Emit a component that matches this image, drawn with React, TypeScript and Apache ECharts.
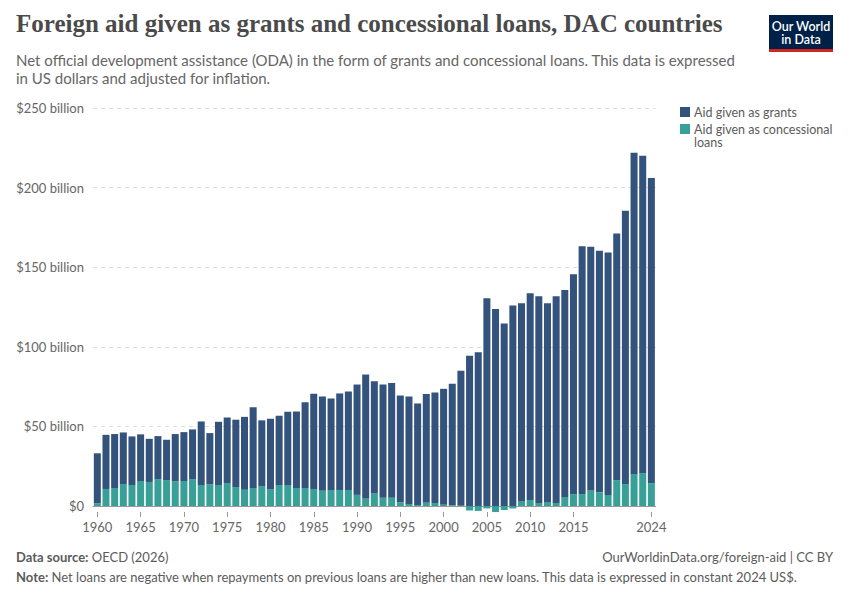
import React, { useEffect, useRef } from "react";
import * as echarts from "echarts";

const years = [
  "1960", "1961", "1962", "1963", "1964", "1965", "1966", "1967", "1968", "1969",
  "1970", "1971", "1972", "1973", "1974", "1975", "1976", "1977", "1978", "1979",
  "1980", "1981", "1982", "1983", "1984", "1985", "1986", "1987", "1988", "1989",
  "1990", "1991", "1992", "1993", "1994", "1995", "1996", "1997", "1998", "1999",
  "2000", "2001", "2002", "2003", "2004", "2005", "2006", "2007", "2008", "2009",
  "2010", "2011", "2012", "2013", "2014", "2015", "2016", "2017", "2018", "2019",
  "2020", "2021", "2022", "2023", "2024",
];

// Aid given as grants (billion constant 2024 US$)
const grants = [
  31.4, 34.0, 33.9, 32.4, 30.5, 29.3, 27.1, 27.0, 25.3, 29.7,
  30.7, 31.2, 39.9, 32.2, 39.7, 41.2, 42.3, 45.8, 50.8, 41.3,
  44.4, 43.5, 46.0, 48.1, 53.9, 59.8, 59.2, 57.5, 60.7, 61.9,
  69.3, 78.0, 70.5, 71.1, 72.0, 67.1, 67.5, 63.8, 68.4, 69.4,
  72.8, 76.3, 84.8, 94.3, 96.5, 130.5, 123.8, 114.6, 125.9, 124.5,
  129.8, 129.8, 124.9, 129.8, 130.3, 138.0, 155.6, 153.1, 151.8, 152.4,
  154.8, 171.7, 201.8, 199.3, 191.6,
];

// Aid given as concessional loans (net, billion constant 2024 US$)
const loans = [
  1.7, 10.7, 11.3, 13.8, 13.2, 15.7, 15.1, 16.9, 16.3, 15.5,
  15.7, 16.9, 13.2, 13.6, 13.2, 14.4, 11.9, 10.2, 11.3, 12.5,
  10.4, 13.2, 13.2, 11.3, 11.3, 10.7, 9.6, 10.0, 10.0, 10.0,
  7.0, 4.6, 7.9, 5.2, 5.2, 2.3, 1.3, 0.6, 2.0, 1.9,
  0.8, 0.5, 0.1, -2.9, -3.1, -1.5, -3.8, -2.5, -1.5, 2.9,
  3.8, 1.9, 2.5, 1.9, 5.4, 7.5, 7.5, 9.8, 8.6, 6.9,
  16.3, 13.8, 20.1, 20.7, 14.4,
];

const yTicks = [0, 50, 100, 150, 200, 250];

const GRANTS_COLOR = "#33537d";
const LOANS_COLOR = "#39a098";
const SANS = "Lato, 'Noto Sans', sans-serif";
const SERIF = "'Liberation Serif', 'DejaVu Serif', serif";

const showYear = (_i: number, v: string) => {
  const y = Number(v);
  return (y % 5 === 0 && y <= 2015) || y === 2024;
};

export default function App() {
  const ref = useRef<HTMLDivElement>(null);

  useEffect(() => {
    document.body.style.margin = "0";
    if (!ref.current) return;
    const chart = echarts.init(ref.current, null, { renderer: "svg" });

    const option: any = {
      animation: false,
      backgroundColor: "#ffffff",
      grid: { left: 93, right: 194.3, top: 108, bottom: 94, containLabel: false },
      xAxis: [
        {
          type: "category",
          data: years,
          boundaryGap: true,
          axisLine: { show: true, lineStyle: { color: "#999", width: 1 } },
          axisTick: { show: false },
          axisLabel: { show: false },
          splitLine: { show: false },
        },
        {
          type: "category",
          data: years,
          position: "bottom",
          offset: 6,
          boundaryGap: true,
          axisLine: { show: false },
          axisTick: {
            show: true,
            alignWithLabel: true,
            interval: showYear,
            length: 5,
            lineStyle: { color: "#999" },
          },
          axisLabel: {
            show: true,
            interval: showYear,
            margin: 8,
            color: "#666",
            fontSize: 13,
            fontFamily: SANS,
          },
        },
      ],
      yAxis: {
        type: "value",
        min: yTicks[0],
        max: yTicks[yTicks.length - 1],
        interval: 50,
        axisLine: { show: false },
        axisTick: { show: false },
        axisLabel: {
          margin: 9,
          color: "#666",
          fontSize: 13,
          fontFamily: SANS,
          formatter: (v: number) => (v === 0 ? "$0" : `$${v} billion`),
        },
        splitLine: { show: true, lineStyle: { color: "#dddddd", type: [4, 4], width: 1 } },
      },
      series: [
        {
          name: "Aid given as concessional loans",
          type: "bar",
          stack: "aid",
          data: loans,
          xAxisIndex: 0,
          clip: false,
          barCategoryGap: "19%",
          itemStyle: { color: LOANS_COLOR },
        },
        {
          name: "Aid given as grants",
          type: "bar",
          stack: "aid",
          data: grants,
          xAxisIndex: 0,
          clip: false,
          barCategoryGap: "19%",
          itemStyle: { color: GRANTS_COLOR },
        },
      ],
      graphic: [
        {
          type: "text",
          left: 16,
          top: 11,
          style: {
            text: "Foreign aid given as grants and concessional loans, DAC countries",
            font: `bold 25px ${SERIF}`,
            fill: "#4a4a4a",
          },
        },
        {
          type: "text",
          style: {
            text: "Net official development assistance (ODA) in the form of grants and concessional loans. This data is expressed",
            x: 16,
            y: 60,
            verticalAlign: "middle",
            font: `15px ${SANS}`,
            fill: "#666666",
          },
        },
        {
          type: "text",
          style: {
            text: "in US dollars and adjusted for inflation.",
            x: 16,
            y: 78,
            verticalAlign: "middle",
            font: `15px ${SANS}`,
            fill: "#666666",
          },
        },
        // logo
        { type: "rect", shape: { x: 769, y: 15, width: 64, height: 37 }, style: { fill: "#002147" } },
        { type: "rect", shape: { x: 769, y: 49, width: 64, height: 3 }, style: { fill: "#ce261e" } },
        {
          type: "text",
          style: {
            text: "Our World",
            x: 801,
            y: 26,
            align: "center",
            verticalAlign: "middle",
            font: `600 12.5px ${SANS}`,
            fill: "#ffffff",
          },
        },
        {
          type: "text",
          style: {
            text: "in Data",
            x: 801,
            y: 39.5,
            align: "center",
            verticalAlign: "middle",
            font: `600 12.5px ${SANS}`,
            fill: "#ffffff",
          },
        },
        // legend
        { type: "rect", shape: { x: 680, y: 107, width: 10, height: 10 }, style: { fill: GRANTS_COLOR } },
        {
          type: "text",
          style: {
            text: "Aid given as grants",
            x: 694,
            y: 112,
            verticalAlign: "middle",
            font: `12.5px ${SANS}`,
            fill: "#5b5b5b",
          },
        },
        { type: "rect", shape: { x: 680, y: 124, width: 10, height: 10 }, style: { fill: LOANS_COLOR } },
        {
          type: "text",
          style: {
            text: "Aid given as concessional",
            x: 694,
            y: 129,
            verticalAlign: "middle",
            font: `12.5px ${SANS}`,
            fill: "#5b5b5b",
          },
        },
        {
          type: "text",
          style: {
            text: "loans",
            x: 694,
            y: 142.5,
            verticalAlign: "middle",
            font: `12.5px ${SANS}`,
            fill: "#5b5b5b",
          },
        },
        // footer
        {
          type: "text",
          style: {
            text: "{b|Data source:} OECD (2026)",
            x: 16,
            y: 557,
            verticalAlign: "middle",
            font: `13px ${SANS}`,
            fill: "#5b5b5b",
            rich: { b: { fontWeight: "bold", fontSize: 13, fontFamily: SANS, fill: "#5b5b5b" } },
          },
        },
        {
          type: "text",
          style: {
            text: "OurWorldinData.org/foreign-aid | CC BY",
            x: 833,
            y: 557,
            align: "right",
            verticalAlign: "middle",
            font: `13px ${SANS}`,
            fill: "#5b5b5b",
          },
        },
        {
          type: "text",
          style: {
            text:
              "{b|Note:} Net loans are negative when repayments on previous loans are higher than new loans. This data is expressed in constant 2024 US$.",
            x: 16,
            y: 577,
            verticalAlign: "middle",
            font: `13px ${SANS}`,
            fill: "#5b5b5b",
            rich: { b: { fontWeight: "bold", fontSize: 13, fontFamily: SANS, fill: "#5b5b5b" } },
          },
        },
      ],
    };

    chart.setOption(option);
    return () => chart.dispose();
  }, []);

  return <div ref={ref} style={{ width: 850, height: 600 }} />;
}
